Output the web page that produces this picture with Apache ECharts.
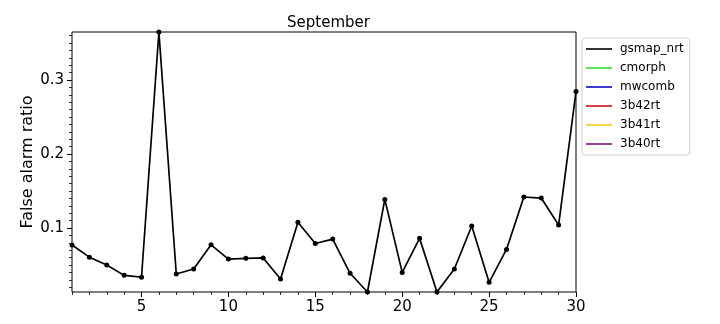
<!DOCTYPE html>
<html>
<head>
<meta charset="utf-8">
<script src="https://cdn.jsdelivr.net/npm/echarts@6/dist/echarts.min.js"></script>
<style>html,body{margin:0;padding:0;background:#fff;}#c{width:720px;height:324px;}</style>
</head>
<body>
<div id="c"></div>
<script>
var days = [1,2,3,4,5,6,7,8,9,10,11,12,13,14,15,16,17,18,19,20,21,22,23,24,25,26,27,28,29,30];
var gsmapNrt = [0.077,0.0606,0.050,0.036,0.0335,0.365,0.0378,0.0446,0.0773,0.058,0.059,0.0595,0.031,0.1077,0.079,0.085,0.0388,0.0135,0.1387,0.040,0.086,0.0135,0.0446,0.1027,0.0266,0.071,0.1419,0.1405,0.104,0.2845];
var seriesNames = ['gsmap_nrt','cmorph','mwcomb','3b42rt','3b41rt','3b40rt'];
var seriesColors = ['#333333','#5ee65e','#3c3cd2','#d24545','#f5d63d','#934293'];
var xTickLabels = [5,10,15,20,25,30];
var xMinorTicks = days;
var yTickLabels = [0.1,0.2,0.3];
var yMinorTicks = [0.02,0.03,0.04,0.05,0.06,0.07,0.08,0.09,0.11,0.12,0.13,0.14,0.15,0.16,0.17,0.18,0.19,0.21,0.22,0.23,0.24,0.25,0.26,0.27,0.28,0.29,0.31,0.32,0.33,0.34,0.35,0.36];
var yMin = 0.0135, yMax = 0.365, xMin = 1, xMax = 30;

var font = 'DejaVu Sans';
var chart = echarts.init(document.getElementById('c'), null, {renderer: 'canvas'});

var series = seriesNames.map(function (name, i) {
  var data = (i === 0) ? days.map(function (d, k) { return [d, gsmapNrt[k]]; }) : [];
  return {
    name: name,
    type: 'line',
    xAxisIndex: 0,
    yAxisIndex: 0,
    data: data,
    color: seriesColors[i],
    symbol: 'circle',
    symbolSize: 5,
    showSymbol: true,
    lineStyle: {color: i === 0 ? '#000' : seriesColors[i], width: 1.7},
    itemStyle: {color: i === 0 ? '#000' : seriesColors[i]},
    clip: true,
    z: 3
  };
});

chart.setOption({
  animation: false,
  backgroundColor: '#fff',
  title: {
    text: 'September',
    left: 282,
    top: 11,
    textStyle: {fontFamily: font, fontSize: 15, fontWeight: 'normal', color: '#000'}
  },
  legend: {
    orient: 'vertical',
    left: 582,
    top: 38,
    padding: [5, 6, 5, 4],
    itemWidth: 26,
    itemHeight: 2,
    itemGap: 7,
    icon: 'rect',
    borderColor: '#d0d0d0',
    borderWidth: 1,
    borderRadius: 3,
    data: seriesNames.map(function (n, i) { return {name: n, itemStyle: {color: seriesColors[i]}}; }),
    textStyle: {fontFamily: font, fontSize: 12, color: '#000', padding: [0,0,0,3]}
  },
  grid: {
    left: 72, top: 32, width: 504, height: 260,
    show: true, borderColor: '#000', borderWidth: 1, backgroundColor: 'transparent',
    containLabel: false
  },
  xAxis: [{
    type: 'value', min: xMin, max: xMax, position: 'bottom',
    axisLine: {show: false},
    splitLine: {show: false},
    axisTick: {show: true, length: 5, customValues: xTickLabels, lineStyle: {color: '#000', width: 1}},
    axisLabel: {show: true, customValues: xTickLabels, fontFamily: font, fontSize: 15, color: '#000', margin: 8, showMinLabel: true, showMaxLabel: true}
  }, {
    type: 'value', min: xMin, max: xMax, position: 'bottom',
    axisLine: {show: false},
    splitLine: {show: false},
    axisTick: {show: true, length: 3, customValues: xMinorTicks, lineStyle: {color: '#000', width: 0.8}},
    axisLabel: {show: false}
  }],
  yAxis: [{
    type: 'value', min: yMin, max: yMax, position: 'left',
    name: 'False alarm ratio', nameLocation: 'middle', nameGap: 36, nameMoveOverlap: false,
    nameTextStyle: {fontFamily: font, fontSize: 16, color: '#000'},
    axisLine: {show: false},
    splitLine: {show: false},
    axisTick: {show: true, length: 5, customValues: yTickLabels, lineStyle: {color: '#000', width: 1}},
    axisLabel: {show: true, customValues: yTickLabels, fontFamily: font, fontSize: 15, color: '#000', margin: 8,
      formatter: function (v) { return String(Math.round(v * 10) / 10); }}
  }, {
    type: 'value', min: yMin, max: yMax, position: 'left',
    axisLine: {show: false},
    splitLine: {show: false},
    axisTick: {show: true, length: 3, customValues: yMinorTicks, lineStyle: {color: '#000', width: 0.8}},
    axisLabel: {show: false}
  }],
  series: series
});
</script>
</body>
</html>
